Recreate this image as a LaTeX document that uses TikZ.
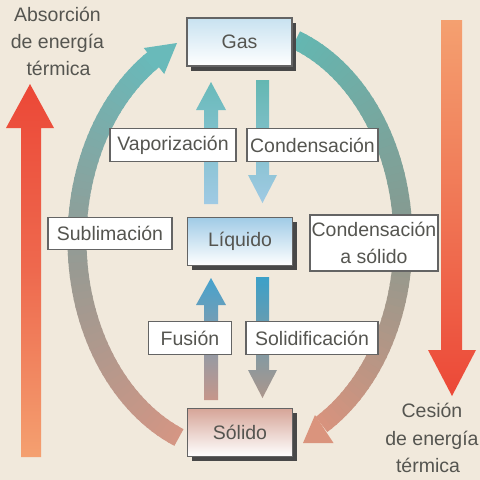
\documentclass[tikz,border=0pt]{standalone}
\usepackage{fontspec}
\setmainfont{Liberation Sans}
\usetikzlibrary{arrows.meta,shadows}
\definecolor{bg}{RGB}{241,233,220}
\definecolor{txt}{RGB}{85,85,80}
\definecolor{bord}{RGB}{100,100,100}
\definecolor{shd}{RGB}{72,72,72}
\definecolor{tealA}{RGB}{105,186,186}
\definecolor{tealB}{RGB}{100,183,178}
\definecolor{salA}{RGB}{218,148,125}
\definecolor{ltblue}{RGB}{160,202,228}
\definecolor{midblue}{RGB}{70,162,205}
\definecolor{redA}{RGB}{236,72,55}
\definecolor{orA}{RGB}{244,160,112}
\definecolor{gasT}{RGB}{200,226,240}
\definecolor{liqT}{RGB}{160,203,230}
\definecolor{solT}{RGB}{214,165,152}
\tikzset{
  statebox/.style={draw=bord, line width=1.2pt, minimum width=105pt, minimum height=48pt,
    inner sep=0pt, text=txt, font=\fontsize{19.5}{22}\selectfont,
    drop shadow={shadow xshift=4pt, shadow yshift=-4.5pt, fill=shd, opacity=1}},
  tagbox/.style={draw=bord, line width=1.1pt, fill=white, text=txt,
    font=\fontsize{19.5}{27}\selectfont, inner sep=0pt, minimum height=33pt, align=center},
  sidetext/.style={text=txt, font=\fontsize{19.5}{22}\selectfont, anchor=base, inner sep=0pt},
}
\begin{document}
\begin{tikzpicture}[x=1pt,y=-1pt]
\fill[bg] (0,0) rectangle (480,480);
\useasboundingbox (0,0) rectangle (480,480);

% big energy arrows
\shade[top color=redA, bottom color=orA, middle color={rgb,255:red,238;green,105;blue,78}]
  (21,457) -- (21,128) -- (6,128) -- (30,84) -- (54,128) -- (41,128) -- (41,457) -- cycle;
\shade[top color=orA, bottom color=redA, middle color={rgb,255:red,240;green,118;blue,85}]
  (441,20) -- (441,350) -- (428,350) -- (452,396) -- (476,350) -- (462,350) -- (462,20) -- cycle;

% left arc (sublimation), gradient
\foreach \i in {0,...,62}{
  \pgfmathsetmacro\ta{112+\i*2}
  \pgfmathsetmacro\u{\i/62}
  \pgfmathtruncatemacro\R{\u<0.5 ? 212+(150-212)*2*\u : 150+(105-150)*(2*\u-1)}
  \pgfmathtruncatemacro\G{\u<0.5 ? 150+(155-150)*2*\u : 155+(186-155)*(2*\u-1)}
  \pgfmathtruncatemacro\B{\u<0.5 ? 132+(148-132)*2*\u : 148+(186-148)*(2*\u-1)}
  \definecolor{segc}{RGB}{\R,\G,\B}
  \draw[line width=19pt, segc] ({240+163*cos(\ta)},{240+213*sin(\ta)})
    arc[start angle=\ta, end angle={min(\ta+2.6,238)}, x radius=163, y radius=213];
}
\coordinate (lhtip) at (177,43);
\fill[tealA] (lhtip) -- (143.8,48) -- (164.2,74) -- cycle;

% right arc (deposition), gradient
\foreach \i in {0,...,64}{
  \pgfmathsetmacro\ta{-70+\i*2}
  \pgfmathsetmacro\u{\i/64}
  \pgfmathtruncatemacro\R{\u<0.5 ? 100+(135-100)*2*\u : 135+(215-135)*(2*\u-1)}
  \pgfmathtruncatemacro\G{\u<0.5 ? 183+(155-183)*2*\u : 155+(147-155)*(2*\u-1)}
  \pgfmathtruncatemacro\B{\u<0.5 ? 178+(145-178)*2*\u : 145+(126-145)*(2*\u-1)}
  \definecolor{segc}{RGB}{\R,\G,\B}
  \draw[line width=19pt, segc] ({240+163*cos(\ta)},{240+213*sin(\ta)})
    arc[start angle=\ta, end angle={min(\ta+2.6,60)}, x radius=163, y radius=213];
}
\coordinate (rhtip) at (303,443);
\fill[salA] (rhtip) -- (315,415) -- (333.5,443) -- cycle;

% vertical arrows
\shade[top color=tealA, bottom color=ltblue]
  (204,204) -- (204,110) -- (196,110) -- (211,82) -- (226,110) -- (218,110) -- (218,204) -- cycle;
\shade[top color=tealB, bottom color=ltblue]
  (256,80) -- (256,175) -- (248,175) -- (262.5,203) -- (277,175) -- (269,175) -- (269,80) -- cycle;
\shade[top color=midblue, bottom color={rgb,255:red,198;green,150;blue,138}]
  (204,400) -- (204,305) -- (196,305) -- (211,278) -- (226,305) -- (218,305) -- (218,400) -- cycle;
\shade[top color={rgb,255:red,60;green,160;blue,200}, bottom color={rgb,255:red,172;green,150;blue,140}]
  (256,277) -- (256,370) -- (248,370) -- (262.5,398) -- (277,370) -- (269,370) -- (269,277) -- cycle;

% state boxes
\node[statebox, top color=gasT, bottom color=white] (gas) at (239.5,42) {Gas};
\node[statebox, top color=liqT, bottom color=white] (liq) at (240,241.5) {Líquido};
\node[statebox, top color=solT, bottom color=white] (sol) at (240,432.5) {Sólido};

% process labels
\node[tagbox, minimum width=126pt] (vap) at (173,145) {Vaporización};
\node[tagbox, minimum width=131pt] (cond) at (312.5,145) {Condensación};
\node[tagbox, minimum width=124pt, minimum height=32pt] (subl) at (110,233.5) {Sublimación};
\node[tagbox, minimum width=128pt, minimum height=56pt] (dep) at (374,243) {Condensación\\a sólido};
\node[tagbox, minimum width=83pt] (fus) at (190,338) {Fusión};
\node[tagbox, minimum width=132pt] (solid) at (312,338) {Solidificación};

% side texts
\node[sidetext] (ab1) at (57.5,21) {Absorción};
\node[sidetext] (ab2) at (57.5,48) {de energía};
\node[sidetext] (ab3) at (58.5,75) {térmica};
\node[sidetext] (ce1) at (432,417) {Cesión};
\node[sidetext] (ce2) at (432,445) {de energía};
\node[sidetext] (ce3) at (428,472) {térmica};
\end{tikzpicture}
\end{document}
